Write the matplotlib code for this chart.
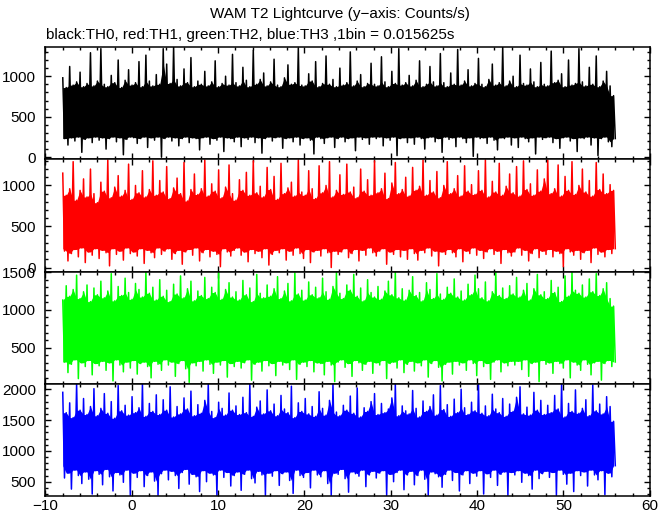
import numpy as np
import matplotlib.pyplot as plt
from matplotlib.ticker import MultipleLocator

plt.rcParams['font.family'] = ['Liberation Sans', 'DejaVu Sans']

# time range of the light curve (s), bins spread evenly across it
t_start = -8.0
t_end = 56.0

# upper / lower excursions of each threshold curve (counts/s)
th0_hi = [980, 860, 1120, 890, 930, 1050, 870, 910, 1290, 880,
          940, 1340, 900, 870, 1010, 920, 1200, 860, 950, 1080,
          890, 920, 1180, 870, 1260, 940, 880, 1020, 900, 1340,
          1150, 910, 1370, 960, 880, 1090, 920, 1230, 870, 940,
          900, 1060, 880, 930, 1190, 870, 910, 1000, 890, 1270,
          920, 880, 1110, 950, 870, 1320, 900, 960, 1040, 880,
          930, 1210, 890, 870, 980, 1140, 900, 920, 1350, 890,
          880, 1030, 940, 1180, 870, 910, 1250, 900, 960, 870,
          1100, 890, 920, 1300, 880, 940, 1020, 870, 910, 1160,
          900, 880, 1240, 930, 870, 1060, 910, 1340, 890, 920,
          1010, 880, 950, 1190, 870, 900, 1120, 930, 880, 1280,
          920, 870, 1040, 900, 1330, 890, 940, 1080, 880, 910,
          1220, 900, 870, 960, 1150, 890, 920, 1360, 880, 940,
          1000, 870, 1260, 910, 890, 1090, 930, 870, 1170, 900,
          880, 1310, 920, 950, 1030, 870, 1200, 890, 910, 1340,
          930, 880, 1110, 900, 1250, 870, 940, 1060, 880, 760]
th0_lo = [230, 150, 240, 200, 250, 60, 220, 240, 180, 250,
          210, 240, 100, 230, 250, 190, 240, 30, 220, 250,
          240, 170, 230, 250, 120, 240, 210, 250, 0, 230,
          250, 200, 240, 140, 230, 250, 180, 240, 230, 90,
          240, 250, 160, 230, 210, 250, 70, 240, 230, 190,
          250, 130, 240, 220, 250, 180, 240, 50, 230, 250,
          200, 240, 250, 110, 230, 240, 190, 250, 150, 230,
          240, 210, 40, 250, 230, 170, 240, 250, 120, 230,
          250, 190, 230, 240, 80, 250, 220, 240, 160, 250,
          230, 250, 140, 240, 210, 250, 20, 230, 240, 180,
          240, 160, 250, 230, 100, 240, 250, 190, 230, 60,
          250, 220, 240, 130, 250, 230, 180, 240, 10, 250,
          230, 240, 170, 250, 210, 90, 240, 230, 250, 150,
          240, 120, 250, 230, 190, 240, 40, 250, 220, 240,
          250, 180, 230, 110, 240, 250, 200, 230, 70, 240,
          230, 250, 150, 240, 20, 230, 250, 190, 130, 230]

th1_hi = [1150, 880, 960, 1290, 820, 940, 1080, 860, 1200, 900,
          790, 1040, 930, 1310, 850, 980, 1120, 870, 940, 1260,
          830, 1000, 910, 1180, 860, 950, 1300, 880, 1060, 920,
          1230, 840, 970, 1090, 900, 1280, 810, 950, 1140, 890,
          960, 1310, 870, 1020, 930, 1190, 850, 980, 1250, 900,
          820, 1070, 940, 1160, 880, 1300, 910, 990, 860, 1220,
          950, 1110, 830, 1270, 900, 970, 1040, 870, 1310, 920,
          880, 1180, 960, 840, 1240, 910, 1000, 1290, 860, 940,
          1130, 890, 1260, 920, 980, 850, 1200, 930, 1070, 880,
          1300, 910, 960, 1150, 840, 1030, 1280, 900, 950, 1100,
          870, 1220, 940, 990, 1310, 880, 1060, 920, 1170, 850,
          1000, 1290, 900, 960, 1120, 870, 1240, 930, 1010, 890,
          1180, 940, 1310, 860, 1050, 920, 1270, 880, 990, 1140,
          910, 1230, 870, 1300, 950, 1020, 880, 1190, 930, 1080,
          1310, 900, 960, 1250, 870, 1110, 940, 1290, 890, 1000,
          1200, 920, 1060, 870, 1280, 950, 1140, 900, 1010, 940]
th1_lo = [200, 80, 170, 220, 130, 240, 60, 190, 150, 230,
          110, 210, 180, 20, 230, 160, 200, 90, 240, 170,
          190, 140, 230, 50, 210, 180, 120, 240, 160, 200,
          230, 100, 170, 210, 40, 190, 220, 150, 240, 80,
          180, 220, 130, 200, 160, 10, 230, 190, 140, 210,
          240, 150, 190, 70, 220, 170, 200, 120, 230, 30,
          160, 210, 180, 230, 90, 200, 150, 240, 170, 110,
          220, 60, 190, 210, 140, 230, 180, 0, 200, 160,
          190, 230, 120, 170, 220, 80, 210, 150, 240, 180,
          140, 200, 230, 40, 190, 160, 220, 130, 210, 100,
          230, 170, 90, 210, 180, 240, 140, 200, 20, 190,
          160, 220, 180, 130, 230, 70, 200, 170, 240, 150,
          210, 110, 190, 230, 160, 200, 50, 220, 180, 140,
          190, 240, 150, 210, 80, 170, 230, 120, 200, 160,
          220, 130, 200, 170, 10, 230, 190, 150, 210, 100,
          180, 210, 60, 240, 160, 190, 130, 220, 170, 230]

th2_hi = [1130, 1320, 1180, 1270, 1460, 1150, 1240, 1330, 1110, 1290,
          1200, 1380, 1160, 1250, 1480, 1120, 1310, 1190, 1420, 1230,
          1140, 1350, 1270, 1170, 1500, 1220, 1300, 1130, 1400, 1180,
          1260, 1110, 1340, 1210, 1450, 1160, 1280, 1380, 1120, 1250,
          1190, 1430, 1150, 1300, 1230, 1500, 1140, 1270, 1360, 1170,
          1240, 1130, 1390, 1200, 1290, 1110, 1470, 1220, 1160, 1330,
          1180, 1280, 1440, 1150, 1250, 1350, 1120, 1490, 1210, 1260,
          1130, 1370, 1200, 1300, 1160, 1420, 1240, 1140, 1310, 1500,
          1220, 1150, 1330, 1260, 1470, 1180, 1290, 1120, 1400, 1230,
          1170, 1310, 1140, 1250, 1380, 1200, 1500, 1160, 1280, 1130,
          1260, 1440, 1190, 1230, 1120, 1360, 1270, 1150, 1480, 1210,
          1140, 1300, 1220, 1410, 1170, 1250, 1130, 1340, 1200, 1460,
          1280, 1160, 1370, 1120, 1240, 1500, 1190, 1290, 1150, 1320,
          1210, 1430, 1170, 1260, 1350, 1130, 1280, 1470, 1200, 1240,
          1150, 1390, 1230, 1300, 1110, 1450, 1180, 1500, 1260, 1220,
          1330, 1170, 1410, 1240, 1480, 1190, 1280, 1360, 1150, 1050]
th2_lo = [310, 170, 280, 340, 90, 300, 250, 330, 140, 290,
          260, 320, 200, 300, 60, 340, 270, 180, 310, 230,
          330, 150, 290, 310, 250, 100, 320, 280, 200, 340,
          270, 310, 120, 290, 330, 220, 40, 300, 260, 320,
          190, 340, 280, 160, 310, 270, 330, 110, 290, 250,
          320, 230, 300, 340, 70, 280, 310, 190, 330, 260,
          290, 130, 320, 270, 300, 210, 340, 80, 280, 310,
          250, 330, 180, 300, 290, 140, 320, 270, 50, 310,
          340, 240, 290, 120, 330, 300, 200, 280, 320, 160,
          300, 270, 330, 90, 290, 310, 230, 340, 170, 280,
          320, 190, 300, 260, 340, 110, 290, 330, 240, 60,
          280, 310, 150, 320, 270, 300, 200, 340, 290, 130,
          330, 250, 290, 80, 310, 340, 180, 300, 260, 320,
          270, 320, 210, 340, 120, 290, 310, 50, 330, 280,
          300, 160, 320, 290, 230, 340, 100, 310, 270, 200,
          340, 280, 140, 300, 320, 70, 290, 330, 250, 310]

th3_hi = [1950, 1620, 1780, 1540, 2090, 1660, 1850, 1590, 1720, 2010,
          1570, 1690, 1930, 1610, 1800, 1530, 2060, 1650, 1740, 1580,
          1880, 1620, 1700, 2090, 1560, 1770, 1640, 1910, 1590, 1830,
          1660, 2040, 1550, 1720, 1600, 1860, 1680, 1970, 1570, 1750,
          1610, 1820, 2090, 1640, 1540, 1790, 1690, 1580, 1940, 1660,
          1730, 1590, 1870, 1620, 2080, 1560, 1710, 1810, 1600, 1990,
          1650, 1760, 1570, 1900, 1680, 1620, 2050, 1540, 1780, 1640,
          1850, 1600, 1720, 1560, 1960, 1690, 1580, 1820, 2090, 1630,
          1570, 1740, 1660, 1890, 1610, 2020, 1550, 1700, 1640, 1800,
          1930, 1590, 1770, 1620, 1680, 1860, 2090, 1570, 1730, 1650,
          1600, 1980, 1690, 1550, 1810, 1640, 1720, 1910, 1580, 2060,
          1670, 1750, 1560, 1840, 1620, 2000, 1700, 1590, 1790, 1650,
          2090, 1610, 1730, 1570, 1920, 1680, 1620, 1850, 1560, 1760,
          1640, 1870, 2040, 1600, 1710, 1580, 1950, 1660, 1820, 1590,
          1740, 1620, 1900, 1680, 2090, 1550, 1770, 1640, 1990, 1610,
          1690, 1830, 1570, 2070, 1650, 1760, 1600, 1880, 1720, 1480]
th3_lo = [560, 640, 380, 690, 600, 470, 660, 540, 300, 680,
          620, 450, 700, 580, 350, 650, 610, 490, 690, 280,
          640, 570, 680, 420, 600, 660, 510, 280, 630, 690,
          530, 670, 600, 390, 650, 700, 460, 620, 580, 340,
          680, 500, 640, 610, 280, 690, 570, 650, 430, 600,
          660, 360, 620, 690, 550, 480, 670, 610, 280, 640,
          590, 680, 440, 630, 660, 520, 310, 690, 600, 570,
          650, 400, 690, 610, 580, 680, 470, 280, 640, 620,
          700, 550, 330, 660, 630, 590, 690, 420, 610, 670,
          560, 640, 680, 280, 620, 500, 650, 690, 370, 610,
          670, 450, 600, 690, 540, 280, 660, 630, 580, 410,
          620, 690, 520, 650, 350, 610, 680, 470, 640, 590,
          680, 300, 630, 570, 690, 440, 620, 660, 280, 650,
          610, 680, 490, 640, 600, 380, 690, 550, 630, 670,
          570, 650, 280, 690, 620, 460, 640, 340, 680, 600,
          660, 430, 690, 610, 530, 680, 290, 640, 580, 760]

colors = ['#000000', '#ff0000', '#00ff00', '#0000ff']
ylims = [(-28, 1356), (-49, 1317), (24, 1508), (273, 2092)]

series = [(th0_hi, th0_lo), (th1_hi, th1_lo), (th2_hi, th2_lo), (th3_hi, th3_lo)]

fig = plt.figure(figsize=(6.72, 5.15), dpi=100)
axes = fig.subplots(4, 1, sharex=True)
fig.subplots_adjust(left=0.0677, right=0.967, top=0.908, bottom=0.0375, hspace=0)

for ax, (hi, lo), c, yl in zip(axes, series, colors, ylims):
    hi = np.array(hi)
    lo = np.array(lo)
    # zig-zag between high and low bins -> dense light curve look
    y = np.column_stack([hi, lo]).ravel()
    t = np.linspace(t_start, t_end, len(y))
    # solid core: what two neighbouring bins both cover
    top = np.minimum(hi, np.roll(hi, -1))
    bot = np.maximum(lo, np.roll(lo, 1))
    ax.fill_between(t[0::2], bot, top, color=c, lw=0)
    ax.plot(t, y, color=c, lw=1.1)
    ax.set_ylim(*yl)
    ax.set_xlim(-10, 60)
    ax.yaxis.set_major_locator(MultipleLocator(500))
    ax.yaxis.set_minor_locator(MultipleLocator(100))
    ax.xaxis.set_major_locator(MultipleLocator(10))
    ax.xaxis.set_minor_locator(MultipleLocator(2))
    ax.tick_params(which='both', direction='in', top=True, right=True,
                   width=1.0, labelsize=11)
    ax.tick_params(which='major', length=4.5)
    ax.tick_params(which='minor', length=2.5)
    ax.tick_params(axis='y', pad=7)
    ax.tick_params(axis='x', pad=2.5)
    for s in ax.spines.values():
        s.set_linewidth(1.1)

fig.text(340 / 672, 1 - 14 / 515, 'WAM T2 Lightcurve (y\u2212axis: Counts/s)',
         ha='center', va='center', fontsize=11)
fig.text(46 / 672, 1 - 35 / 515,
         'black:TH0, red:TH1, green:TH2, blue:TH3 ,1bin = 0.015625s',
         ha='left', va='center', fontsize=11)

fig.savefig('out.png', dpi=100)
